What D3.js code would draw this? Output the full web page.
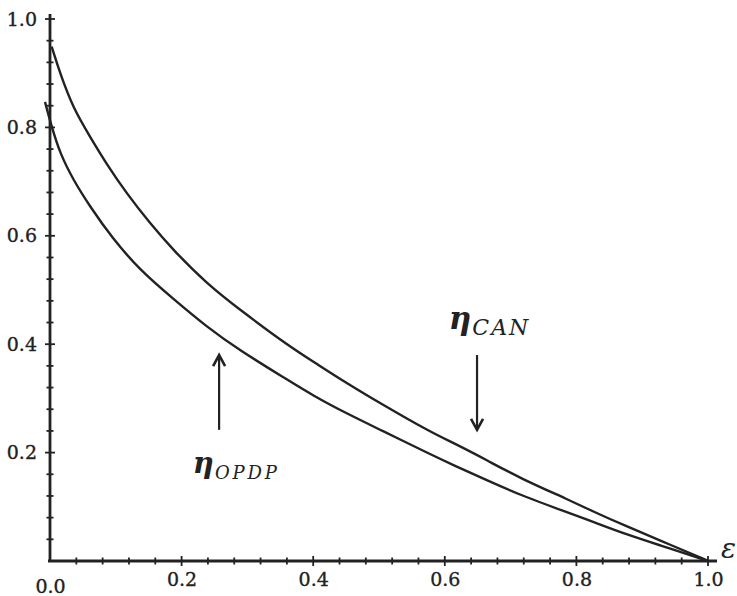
<!DOCTYPE html>
<html>
<head>
<meta charset="UTF-8">
<script src="https://cdnjs.cloudflare.com/ajax/libs/d3/7.8.5/d3.min.js"></script>
<style>
    body { margin: 0; background: #fff; }
    svg { display: block; }
    .tick-label { font-family: "DejaVu Serif", serif; font-size: 19px; fill: #222; stroke: #222; stroke-width: 0.35px; }
    .curve { fill: none; stroke: #222; stroke-width: 2.4px; }
</style>
</head>
<body>
<svg width="737" height="596"></svg>
<script>
    // eta_CAN (epsilon, eta)
    const canEps = [0.0026, 0.0152, 0.0354, 0.0608, 0.0862, 0.1166, 0.152, 0.187, 0.238, 0.289, 0.365, 0.400, 0.451, 0.502, 0.578, 0.613, 0.664, 0.714, 0.790, 0.826, 0.876, 0.927, 0.993, 1.0];
    const canEta = [0.949, 0.900, 0.835, 0.783, 0.732, 0.678, 0.623, 0.574, 0.512, 0.463, 0.395, 0.368, 0.328, 0.291, 0.238, 0.218, 0.186, 0.153, 0.112, 0.091, 0.064, 0.038, 0.004, 0.0];

    // eta_OPDP
    const opdpEps = [-0.0076, 0.0026, 0.0152, 0.0354, 0.0608, 0.0938, 0.137, 0.187, 0.238, 0.289, 0.360, 0.400, 0.451, 0.502, 0.578, 0.613, 0.664, 0.714, 0.790, 0.826, 0.876, 0.927, 0.993, 1.0];
    const opdpEta = [0.847, 0.801, 0.752, 0.703, 0.654, 0.597, 0.536, 0.484, 0.432, 0.388, 0.335, 0.305, 0.272, 0.242, 0.197, 0.177, 0.149, 0.122, 0.088, 0.072, 0.049, 0.029, 0.003, 0.0];

    const xLabels = [0, 0.2, 0.4, 0.6, 0.8, 1.0];
    const yLabels = [0.2, 0.4, 0.6, 0.8, 1.0];
    const minorTicks = d3.range(0, 26).map(i => i * 0.04);

    const svg = d3.select("svg");
    const x = d3.scaleLinear().domain([0, 1]).range([50, 708]);
    const y = d3.scaleLinear().domain([0, 1]).range([561, 19]);

    // axis lines
    svg.append("line")
        .attr("x1", x(0) - 2).attr("x2", x(1) + 9)
        .attr("y1", y(0)).attr("y2", y(0))
        .attr("stroke", "#222").attr("stroke-width", 2.8);
    svg.append("line")
        .attr("x1", x(0)).attr("x2", x(0))
        .attr("y1", y(0) + 1).attr("y2", y(1) - 5)
        .attr("stroke", "#222").attr("stroke-width", 2.8);

    // crossing ticks
    const isMajor = v => Math.abs(v * 5 - Math.round(v * 5)) < 1e-6;
    svg.append("g").selectAll("line")
        .data(minorTicks.filter(v => v > 0))
        .join("line")
        .attr("x1", d => x(d)).attr("x2", d => x(d))
        .attr("y1", d => y(0) - (isMajor(d) ? 5 : 3.5))
        .attr("y2", d => y(0) + (isMajor(d) ? 5 : 3.5))
        .attr("stroke", "#222").attr("stroke-width", 1.8);
    svg.append("g").selectAll("line")
        .data(minorTicks.filter(v => v > 0))
        .join("line")
        .attr("y1", d => y(d)).attr("y2", d => y(d))
        .attr("x1", d => x(0) - (isMajor(d) ? 5 : 3.5))
        .attr("x2", d => x(0) + (isMajor(d) ? 5 : 3.5))
        .attr("stroke", "#222").attr("stroke-width", 1.8);

    // tick labels
    const xAxis = svg.append("g")
        .attr("transform", `translate(0,${y(0)})`)
        .call(d3.axisBottom(x).tickValues(xLabels).tickFormat(d3.format(".1f")).tickSize(0).tickPadding(14));
    xAxis.select(".domain").remove();
    xAxis.selectAll("text").attr("class", "tick-label")
        .attr("dy", (d, i) => i === 0 ? "0.95em" : "0.6em");

    const yAxis = svg.append("g")
        .attr("transform", `translate(${x(0)},0)`)
        .call(d3.axisLeft(y).tickValues(yLabels).tickFormat(d3.format(".1f")).tickSize(0).tickPadding(13));
    yAxis.select(".domain").remove();
    yAxis.selectAll("text").attr("class", "tick-label");

    // curves
    const line = d3.line()
        .x(d => x(d[0]))
        .y(d => y(d[1]))
        .curve(d3.curveBasis);
    svg.append("path").attr("class", "curve").attr("d", line(d3.zip(canEps, canEta)));
    svg.append("path").attr("class", "curve").attr("d", line(d3.zip(opdpEps, opdpEta)));

    // arrows
    function arrow(ex, eFrom, eTo) {
        const x0 = x(ex), y0 = y(eFrom), y1 = y(eTo);
        const dir = y1 < y0 ? 1 : -1;
        svg.append("line")
            .attr("x1", x0).attr("x2", x0).attr("y1", y0).attr("y2", y1 + dir * 2)
            .attr("stroke", "#222").attr("stroke-width", 2.2);
        svg.append("path")
            .attr("d", `M${x0 - 6},${y1 + dir * 11} L${x0},${y1} L${x0 + 6},${y1 + dir * 11}`)
            .attr("fill", "none").attr("stroke", "#222").attr("stroke-width", 2.6)
            .attr("stroke-linejoin", "miter");
    }
    arrow(0.257, 0.242, 0.380);
    arrow(0.649, 0.380, 0.242);

    function label(ex, ey, sub, big, small, subWidth) {
        const t = svg.append("text").attr("x", x(ex)).attr("y", y(ey))
            .attr("font-family", "'DejaVu Serif', serif").attr("fill", "#222");
        t.append("tspan").text("η").attr("font-size", big).attr("font-weight", "bold").attr("font-style", "italic");
        t.append("tspan").text(sub).attr("font-size", small).attr("font-style", "italic")
            .attr("dy", 6).attr("dx", 1)
            .attr("textLength", subWidth).attr("lengthAdjust", "spacing");
    }
    label(0.217, 0.162, "OPDP", 29, 18, 62);
    label(0.606, 0.428, "CAN", 31, 22, 56);

    // axis name
    svg.append("text")
        .attr("x", x(1) + 13).attr("y", y(0) - 3)
        .attr("font-family", "'DejaVu Serif', serif")
        .attr("font-style", "italic").attr("font-size", 28).attr("fill", "#222")
        .text("ε");
</script>
</body>
</html>
